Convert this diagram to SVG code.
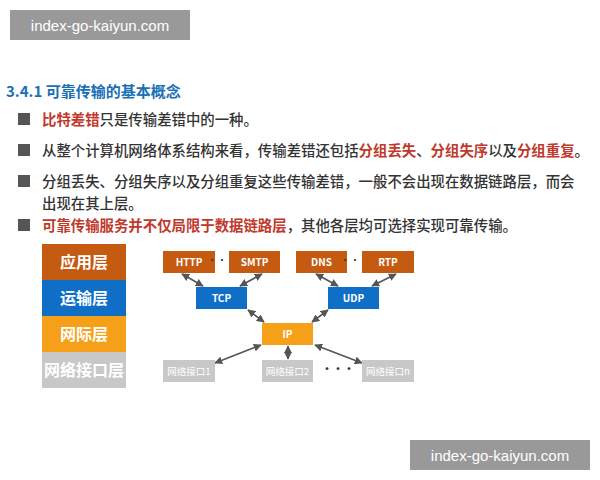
<svg xmlns="http://www.w3.org/2000/svg" width="600" height="480" viewBox="0 0 600 480">
<defs>
<style>
text{font-family:"Noto Sans CJK SC","Liberation Sans",sans-serif}
.b{font-size:14.4px;fill:#333;font-weight:500}
.r{fill:#c0392b;font-weight:bold}
.bx{font-size:10px;font-weight:bold;fill:#fff;text-anchor:middle}
.lay{font-size:16px;font-weight:bold;fill:#fff;text-anchor:middle}
.ni{font-size:9.5px;fill:#fff;text-anchor:middle}
.c{stroke:#555;stroke-width:1.6;fill:none;marker-start:url(#a);marker-end:url(#a)}
</style>
<marker id="a" viewBox="0 0 10 10" refX="9" refY="5" markerWidth="5" markerHeight="5" orient="auto-start-reverse"><path d="M0,0L10,5L0,10z" fill="#555"/></marker>
</defs>
<rect width="600" height="480" fill="#fff"/>
<g id="wm1"><rect x="10" y="10" width="180" height="30" fill="#999"/><text x="100" y="31" font-size="15" fill="#fff" text-anchor="middle" style="font-family:'Liberation Sans',sans-serif">index-go-kaiyun.com</text></g>
<text x="6" y="97" font-size="15" font-weight="bold" fill="#1a6fb5">3.4.1 可靠传输的基本概念</text>
<g fill="#555"><rect x="18" y="113" width="12" height="12"/><rect x="18" y="144" width="12" height="12"/><rect x="18" y="175" width="12" height="12"/><rect x="18" y="219" width="12" height="12"/></g>
<text x="42" y="125" class="b"><tspan class="r">比特差错</tspan>只是传输差错中的一种。</text>
<text x="42" y="156" class="b">从整个计算机网络体系结构来看，传输差错还包括<tspan class="r">分组丢失</tspan>、<tspan class="r">分组失序</tspan>以及<tspan class="r">分组重复</tspan>。</text>
<text x="42" y="187" class="b">分组丢失、分组失序以及分组重复这些传输差错，一般不会出现在数据链路层，而会</text>
<text x="42" y="209" class="b">出现在其上层。</text>
<text x="42" y="231" class="b"><tspan class="r">可靠传输服务并不仅局限于数据链路层</tspan>，其他各层均可选择实现可靠传输。</text>
<g id="layers">
<rect x="42" y="244" width="84" height="36" fill="#c55a11"/><text x="84" y="268" class="lay">应用层</text>
<rect x="42" y="280" width="84" height="36" fill="#0f6fc6"/><text x="84" y="304" class="lay">运输层</text>
<rect x="42" y="316" width="84" height="36" fill="#f6a01a"/><text x="84" y="340" class="lay">网际层</text>
<rect x="42" y="352" width="84" height="36" fill="#c8c8c8"/><text x="84" y="376" class="lay">网络接口层</text>
</g>
<g id="connectors">
<line class="c" x1="182" y1="274" x2="203" y2="286"/>
<line class="c" x1="262" y1="274" x2="240" y2="286"/>
<line class="c" x1="316" y1="274" x2="338" y2="286"/>
<line class="c" x1="396" y1="274" x2="372" y2="286"/>
<line class="c" x1="248" y1="310" x2="264" y2="322"/>
<line class="c" x1="328" y1="310" x2="312" y2="322"/>
<line class="c" x1="261" y1="345" x2="215" y2="363"/>
<line class="c" x1="288" y1="346" x2="288" y2="359"/>
<line class="c" x1="315" y1="345" x2="362" y2="363"/>
</g>
<g id="HTTP"><rect x="163" y="251" width="52" height="22" fill="#c55a11"/><text x="189" y="266" class="bx">HTTP</text></g>
<text x="222" y="264" font-size="10" fill="#333" text-anchor="middle">···</text>
<g id="SMTP"><rect x="229" y="251" width="51" height="22" fill="#c55a11"/><text x="254.5" y="266" class="bx">SMTP</text></g>
<g id="DNS"><rect x="296" y="251" width="51" height="22" fill="#c55a11"/><text x="321.5" y="266" class="bx">DNS</text></g>
<text x="355" y="264" font-size="10" fill="#333" text-anchor="middle">···</text>
<g id="RTP"><rect x="362" y="251" width="52" height="22" fill="#c55a11"/><text x="388" y="266" class="bx">RTP</text></g>
<g id="TCP"><rect x="196" y="287" width="51" height="22" fill="#0f6fc6"/><text x="221.5" y="302" class="bx">TCP</text></g>
<g id="UDP"><rect x="328" y="287" width="51" height="22" fill="#0f6fc6"/><text x="353.5" y="302" class="bx">UDP</text></g>
<g id="IP"><rect x="262" y="323" width="51" height="22" fill="#f6a01a"/><text x="287.5" y="338" class="bx">IP</text></g>
<g id="if1"><rect x="163" y="360" width="52" height="22" fill="#c8c8c8"/><text x="189" y="375" class="ni">网络接口1</text></g>
<g id="if2"><rect x="262" y="360" width="51" height="22" fill="#c8c8c8"/><text x="287.5" y="375" class="ni">网络接口2</text></g>
<text x="338" y="373" font-size="11" fill="#333" text-anchor="middle" font-weight="bold">···</text>
<g id="ifn"><rect x="362" y="360" width="52" height="22" fill="#c8c8c8"/><text x="388" y="375" class="ni">网络接口n</text></g>
<g id="wm2"><rect x="410" y="440" width="180" height="30" fill="#999"/><text x="500" y="461" font-size="15" fill="#fff" text-anchor="middle" style="font-family:'Liberation Sans',sans-serif">index-go-kaiyun.com</text></g>
</svg>
